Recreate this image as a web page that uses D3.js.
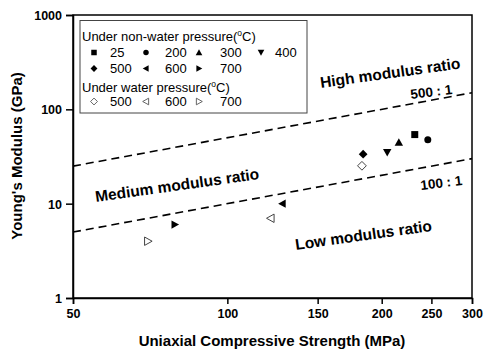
<!DOCTYPE html>
<html>
<head>
<meta charset="utf-8">
<script src="https://cdn.jsdelivr.net/npm/d3@7"></script>
<style>
  body { margin: 0; background: #fff; }
  svg { display: block; font-family: "Liberation Sans", Arial, sans-serif; }
</style>
</head>
<body>
<svg id="chart" width="484" height="351"></svg>
<script>
// Uniaxial compressive strength (MPa) and Young's modulus (GPa) by treatment temperature
const dryTemps = ["25", "200", "300", "400", "500", "600", "700"];
const dryUCS   = [232, 246, 216, 205, 184, 128, 79];
const dryE     = [54, 47.5, 44.5, 35, 33.5, 10, 6];
const dryShape = ["square", "circle", "up", "down", "diamond", "left", "right"];

const wetTemps = ["500", "600", "700"];
const wetUCS   = [183, 121.5, 70];
const wetE     = [25.2, 7, 4];
const wetShape = ["diamond", "left", "right"];

// Modulus ratio boundaries (E/UCS)
const ratioValues = [500, 100];
const ratioLabels = ["500 : 1", "100 : 1"];

const xTicks = [50, 100, 150, 200, 250, 300];
const yTicks = [1, 10, 100, 1000];

const svg = d3.select("#chart");
const m = { left: 73, right: 472, top: 15, bottom: 298 };

const x = d3.scaleLog().domain([50, 300]).range([m.left, m.right]);
const y = d3.scaleLog().domain([1, 1000]).range([m.bottom, m.top]);

// marker shape generator
function shapePath(kind, s) {
  const h = s / 2;
  switch (kind) {
    case "square": return `M${-h},${-h}H${h}V${h}H${-h}Z`;
    case "circle": return d3.symbol(d3.symbolCircle, Math.PI * h * h)();
    case "diamond": { const d = h * 1.25; return `M0,${-d}L${d},0L0,${d}L${-d},0Z`; }
    case "up":    { const d = h * 1.2; return `M0,${-d}L${d},${d * 0.8}L${-d},${d * 0.8}Z`; }
    case "down":  { const d = h * 1.2; return `M0,${d}L${d},${-d * 0.8}L${-d},${-d * 0.8}Z`; }
    case "left":  { const d = h * 1.2; return `M${-d},0L${d * 0.8},${-d}L${d * 0.8},${d}Z`; }
    case "right": { const d = h * 1.2; return `M${d},0L${-d * 0.8},${-d}L${-d * 0.8},${d}Z`; }
  }
}

// frame
svg.append("rect")
  .attr("x", m.left).attr("y", m.top)
  .attr("width", m.right - m.left).attr("height", m.bottom - m.top)
  .attr("fill", "none").attr("stroke", "#000").attr("stroke-width", 1.5);

// axes
const xAxis = svg.append("g")
  .attr("transform", `translate(0,${m.bottom})`)
  .call(d3.axisBottom(x).tickValues(xTicks).tickFormat(d3.format("d")).tickSizeOuter(0).tickSize(6).tickPadding(5));
const yAxis = svg.append("g")
  .attr("transform", `translate(${m.left},0)`)
  .call(d3.axisLeft(y).tickValues(yTicks).tickFormat(d3.format("d")).tickSizeOuter(0).tickSize(7).tickPadding(4));
[xAxis, yAxis].forEach(g => {
  g.select(".domain").attr("stroke-width", 1.5);
  g.selectAll(".tick line").attr("stroke-width", 1.5);
  g.selectAll(".tick text")
    .attr("font-family", "'Liberation Sans', Arial, sans-serif")
    .attr("font-size", 12.5).attr("font-weight", "bold").attr("fill", "#000");
});
yAxis.selectAll(".tick text").attr("dy", "0.35em");

// axis titles
svg.append("text")
  .attr("x", 272).attr("y", 346)
  .attr("text-anchor", "middle").attr("font-size", 15).attr("font-weight", "bold")
  .text("Uniaxial Compressive Strength (MPa)");
svg.append("text")
  .attr("transform", `translate(21.5,156) rotate(-90)`)
  .attr("text-anchor", "middle").attr("font-size", 15).attr("font-weight", "bold")
  .text("Young's Modulus (GPa)");

// ratio boundary lines: E(GPa) = ratio * UCS(MPa) / 1000
ratioValues.forEach(r => {
  const pts = [50, 300].map(u => [x(u), y(r * u / 1000)]);
  svg.append("line")
    .attr("x1", pts[0][0]).attr("y1", pts[0][1])
    .attr("x2", pts[1][0]).attr("y2", pts[1][1])
    .attr("stroke", "#000").attr("stroke-width", 1.6)
    .attr("stroke-dasharray", "8,5");
});

// region labels
const angle = -8;
function rotLabel(txt, px, py, size, rot) {
  svg.append("text")
    .attr("transform", `translate(${px},${py}) rotate(${rot})`)
    .attr("font-size", size).attr("font-weight", "bold")
    .text(txt);
}
rotLabel("High modulus ratio", 321, 88, 15.5, angle);
rotLabel("Medium modulus ratio", 96, 202, 15.5, angle);
rotLabel("Low modulus ratio", 296, 250, 15.5, angle);
rotLabel(ratioLabels[0], 411, 99, 13.5, -7);
rotLabel(ratioLabels[1], 421, 190, 13.5, -7);

// data points
const dry = dryUCS.map((u, i) => ({ u, e: dryE[i], shape: dryShape[i] }));
const wet = wetUCS.map((u, i) => ({ u, e: wetE[i], shape: wetShape[i] }));

svg.append("g").selectAll("path").data(wet).join("path")
  .attr("transform", d => `translate(${x(d.u)},${y(d.e)})`)
  .attr("d", d => shapePath(d.shape, 7))
  .attr("fill", "#fff").attr("stroke", "#444").attr("stroke-width", 1);

svg.append("g").selectAll("path").data(dry).join("path")
  .attr("transform", d => `translate(${x(d.u)},${y(d.e)})`)
  .attr("d", d => shapePath(d.shape, 7))
  .attr("fill", "#000");

// legend
const lg = svg.append("g");
lg.append("rect").attr("x", 80).attr("y", 20.5).attr("width", 227).attr("height", 92.5)
  .attr("fill", "#fff").attr("stroke", "#444").attr("stroke-width", 1);

function header(txt, py) {
  const t = lg.append("text").attr("x", 82).attr("y", py).attr("font-size", 13);
  t.append("tspan").text(txt + "(");
  t.append("tspan").attr("font-size", 8.5).attr("dy", -5).text("o");
  t.append("tspan").attr("dy", 5).text("C)");
}
header("Under non-water pressure", 41);
header("Under water pressure", 91.5);

const colSym = [94, 146, 199, 261];
const colTxt = [110, 165, 220, 275];
function entry(shape, label, col, rowY, filled) {
  lg.append("path")
    .attr("transform", `translate(${colSym[col]},${rowY})`)
    .attr("d", shapePath(shape, 5.5))
    .attr("fill", filled ? "#000" : "#fff")
    .attr("stroke", filled ? "none" : "#555").attr("stroke-width", 0.9);
  lg.append("text").attr("x", colTxt[col]).attr("y", rowY + 4.8)
    .attr("font-size", 13).text(label);
}
dryTemps.forEach((t, i) => entry(dryShape[i], t, i % 4, i < 4 ? 52.5 : 68.5, true));
wetTemps.forEach((t, i) => entry(wetShape[i], t, i, 101.5, false));
</script>
</body>
</html>
